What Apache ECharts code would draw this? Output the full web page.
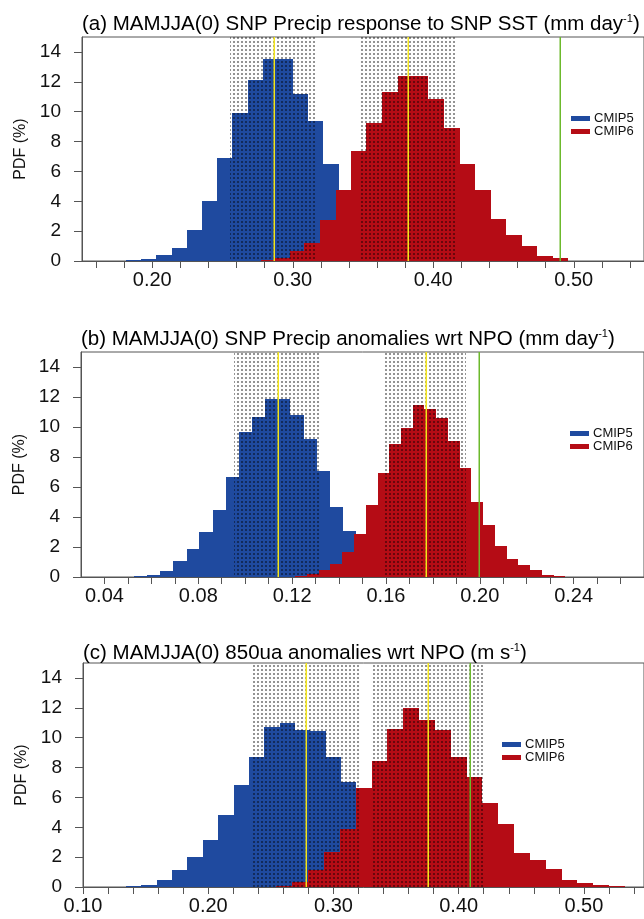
<!DOCTYPE html>
<html><head><meta charset="utf-8">
<script src="https://cdn.jsdelivr.net/npm/echarts@6/dist/echarts.min.js"></script>
<style>html,body{margin:0;padding:0;background:#fff}#c{width:644px;height:919px}</style>
</head><body><div id="c"></div>
<script>
// ---------- Panel (a) ----------
const aTitle = '(a) MAMJJA(0) SNP Precip response to SNP SST (mm day';
const aUnitSup = '-1';
const aBlueEdges = [0.1815,0.1922,0.2028,0.2140,0.2249,0.2356,0.2463,0.2570,0.2681,0.2788,0.2895,0.3001,0.3111,0.3218,0.3327,0.3435,0.3543,0.3651,0.3759,0.3867];
const aBlueValues = [0.05,0.12,0.38,0.9,2.1,4.05,6.9,9.9,12.1,13.5,13.5,11.2,9.4,6.5,4.2,2.9,1.5,0.6,0.2];
const aRedEdges = [0.2773,0.2872,0.2978,0.3083,0.3197,0.3306,0.3417,0.3524,0.3635,0.3747,0.3856,0.3966,0.4076,0.4188,0.4297,0.4409,0.4521,0.4630,0.4739,0.4849,0.4960,0.5068];
const aRedValues = [0.07,0.22,0.67,1.2,2.72,4.78,7.37,9.26,11.3,12.37,12.37,10.85,8.93,6.52,4.73,2.79,1.72,0.98,0.36,0.2,0.03];
const aBands = [[0.2551,0.3172],[0.3472,0.4165]];
const aMedians = [0.2866,0.3821];
const aObserved = 0.4903;
const aXTicks = [0.16,0.18,0.20,0.22,0.24,0.26,0.28,0.30,0.32,0.34,0.36,0.38,0.40,0.42,0.44,0.46,0.48,0.50,0.52,0.54];
const aXLabels = [0.20,0.30,0.40,0.50];

// ---------- Panel (b) ----------
const bTitle = '(b) MAMJJA(0) SNP Precip anomalies wrt NPO (mm day';
const bUnitSup = '-1';
const bBlueEdges = [0.0475,0.0528,0.0583,0.0638,0.0694,0.0750,0.0805,0.0861,0.0916,0.0972,0.1027,0.1083,0.1138,0.1193,0.1249,0.1304,0.1360,0.1415,0.1471,0.1526,0.1582,0.1637,0.1693];
const bBlueValues = [0.03,0.06,0.15,0.4,1.05,1.85,3.0,4.5,6.65,9.7,10.7,11.85,11.9,10.8,9.2,7.1,4.7,3.1,1.9,0.9,0.4,0.1];
const bRedEdges = [0.1213,0.1263,0.1313,0.1363,0.1413,0.1463,0.1514,0.1564,0.1614,0.1664,0.1714,0.1764,0.1814,0.1864,0.1914,0.1964,0.2015,0.2065,0.2115,0.2165,0.2215,0.2265,0.2315,0.2365,0.2415];
const bRedValues = [0.05,0.18,0.5,0.9,1.7,2.9,4.8,6.96,8.9,9.96,11.5,11.2,10.6,9.07,7.3,5.0,3.5,2.1,1.2,0.78,0.44,0.11,0.07,0.03];
const bBands = [[0.0954,0.1320],[0.1594,0.1942]];
const bMedians = [0.1138,0.1771];
const bObserved = 0.1997;
const bXTicks = [0.04,0.05,0.06,0.07,0.08,0.09,0.10,0.11,0.12,0.13,0.14,0.15,0.16,0.17,0.18,0.19,0.20,0.21,0.22,0.23,0.24,0.25,0.26];
const bXLabels = [0.04,0.08,0.12,0.16,0.20,0.24];

// ---------- Panel (c) ----------
const cTitle = '(c) MAMJJA(0) 850ua anomalies wrt NPO (m s';
const cUnitSup = '-1';
const cBlueEdges = [0.1220,0.1343,0.1465,0.1588,0.1711,0.1834,0.1956,0.2079,0.2202,0.2324,0.2447,0.2570,0.2692,0.2815,0.2938,0.3061,0.3183,0.3306,0.3429,0.3551,0.3674,0.3797,0.3920,0.4042];
const cBlueValues = [0.02,0.07,0.15,0.5,1.16,2.0,3.17,4.8,6.8,8.7,10.7,10.98,10.5,10.45,8.7,7.0,5.0,3.8,2.5,1.6,0.9,0.4,0.1];
const cRedEdges = [0.2418,0.2545,0.2671,0.2798,0.2924,0.3051,0.3177,0.3304,0.3430,0.3557,0.3683,0.3810,0.3936,0.4063,0.4189,0.4316,0.4442,0.4569,0.4695,0.4822,0.4948,0.5075,0.5201,0.5328,0.5454];
const cRedValues = [0.02,0.07,0.33,1.16,2.34,3.9,6.63,8.45,10.55,12.0,11.15,10.5,8.72,7.35,5.65,4.22,2.25,1.82,1.22,0.45,0.25,0.13,0.06,0.03];
const cBands = [[0.2355,0.3216],[0.3308,0.4191]];
const cMedians = [0.2780,0.3755];
const cObserved = 0.4087;
const cXTicks = [0.10,0.12,0.14,0.16,0.18,0.20,0.22,0.24,0.26,0.28,0.30,0.32,0.34,0.36,0.38,0.40,0.42,0.44,0.46,0.48,0.50,0.52,0.54];
const cXLabels = [0.10,0.20,0.30,0.40,0.50];

// ---------- Shared ----------
const yTicks = [0,2,4,6,8,10,12,14];
const yLabels = [0,2,4,6,8,10,12,14];
const seriesNames = ['CMIP5','CMIP6'];

const BLUE = '#1f4a9f', RED = '#b50c15', YELLOW = '#f3e51c', GREEN = '#6cb92c', AXIS = '#555';
const FONT = "'Liberation Sans', Arial, Helvetica, sans-serif";

function dotPattern(){
  const c = document.createElement('canvas');
  c.width = 4; c.height = 4;
  const g = c.getContext('2d');
  g.fillStyle = 'rgba(0,0,0,0.42)';
  g.fillRect(1,1,2,2);
  return c;
}
const PATTERN = {type:'pattern', image: dotPattern(), repeat:'repeat'};

function toBins(edges, vals){ return vals.map((v,i)=>[edges[i], edges[i+1], v]); }

function histItem(params, api){
  const p = api.coord([api.value(0), api.value(2)]);
  const q = api.coord([api.value(1), 0]);
  const x0 = Math.round(p[0]), x1 = Math.round(q[0]);
  const y0 = Math.round(p[1]), y1 = Math.round(q[1]);
  return {type:'rect', shape:{x:x0, y:y0, width:x1-x0, height:y1-y0}, style:{fill: api.visual('color')}};
}
function bandItem(params, api){
  const p = api.coord([api.value(0), 15]);
  const q = api.coord([api.value(1), 0]);
  const x0 = Math.round(p[0]), x1 = Math.round(q[0]);
  return {type:'rect', shape:{x:x0, y:p[1], width:x1-x0, height:q[1]-p[1]}, style:{fill: PATTERN}};
}
function lineItem(params, api){
  const p = api.coord([api.value(0), 15]);
  const q = api.coord([api.value(0), 0]);
  const x = Math.round(p[0]) + 0.25;
  return {type:'line', shape:{x1:x, y1:p[1], x2:x, y2:q[1]}, style:{stroke: api.value(1) === 1 ? GREEN : YELLOW, lineWidth:1.5}};
}

const panels = [
  {title:aTitle, sup:aUnitSup, be:aBlueEdges, bv:aBlueValues, re:aRedEdges, rv:aRedValues, bands:aBands, med:aMedians, obs:aObserved, ticks:aXTicks, labels:aXLabels,
   min:0.15, max:0.55, grid:{left:82, top:37, height:224}, titleTop:12, legend:{left:571, top:112}},
  {title:bTitle, sup:bUnitSup, be:bBlueEdges, bv:bBlueValues, re:bRedEdges, rv:bRedValues, bands:bBands, med:bMedians, obs:bObserved, ticks:bXTicks, labels:bXLabels,
   min:0.03, max:0.27, grid:{left:81, top:352, height:225}, titleTop:327, legend:{left:570, top:427}},
  {title:cTitle, sup:cUnitSup, be:cBlueEdges, bv:cBlueValues, re:cRedEdges, rv:cRedValues, bands:cBands, med:cMedians, obs:cObserved, ticks:cXTicks, labels:cXLabels,
   min:0.10, max:0.548, grid:{left:83, top:663, height:224}, titleTop:641, legend:{left:502, top:738}}
];

const option = {
  backgroundColor:'#fff', animation:false,
  textStyle:{fontFamily:FONT},
  title:[], grid:[], xAxis:[], yAxis:[], legend:[], series:[]
};

panels.forEach((P, i)=>{
  option.title.push({
    text:'{t|' + P.title + '}{s|' + P.sup + '}{t|)}',
    left:P.grid.left, top:P.titleTop, padding:0,
    textStyle:{fontWeight:'normal', rich:{
      t:{fontFamily:FONT, fontSize:20.5, fontWeight:'normal', color:'#000', lineHeight:24},
      s:{fontFamily:FONT, fontSize:11, fontWeight:'normal', color:'#000', lineHeight:11, verticalAlign:'top', padding:[1,0,0,0]}
    }}
  });
  option.grid.push({left:P.grid.left, top:P.grid.top, height:P.grid.height, right:-1, show:true, borderColor:AXIS, borderWidth:1, containLabel:false});
  option.xAxis.push({
    gridIndex:i, type:'value', min:P.min, max:P.max,
    axisLine:{show:true, onZero:false, lineStyle:{color:AXIS, width:1}},
    axisTick:{show:true, inside:false, length:7, customValues:P.ticks, lineStyle:{color:AXIS}},
    axisLabel:{show:true, customValues:P.labels, formatter:v=>Number(v).toFixed(2), fontSize:20, color:'#111', margin:9, fontFamily:FONT},
    splitLine:{show:false}
  });
  option.yAxis.push({
    gridIndex:i, type:'value', min:0, max:15,
    name:'PDF (%)', nameLocation:'middle', nameGap:51, nameTextStyle:{fontSize:16, color:'#111', fontFamily:FONT},
    axisLine:{show:true, onZero:false, lineStyle:{color:AXIS, width:1}},
    axisTick:{show:true, inside:false, length:8, customValues:yTicks, lineStyle:{color:AXIS}},
    axisLabel:{show:true, customValues:yLabels, fontSize:19, color:'#111', margin:21, fontFamily:FONT},
    splitLine:{show:false}
  });
  option.legend.push({
    left:P.legend.left, top:P.legend.top, orient:'vertical', padding:0, itemGap:0,
    itemWidth:19, itemHeight:5, icon:'rect', selectedMode:false,
    textStyle:{fontSize:13, color:'#111', fontFamily:FONT, padding:[0,0,0,-1]},
    data:seriesNames
  });
  option.series.push({
    name:seriesNames[0], type:'custom', xAxisIndex:i, yAxisIndex:i, z:2, clip:true,
    itemStyle:{color:BLUE}, renderItem:histItem, encode:{x:[0,1], y:2},
    data:toBins(P.be, P.bv)
  });
  option.series.push({
    name:seriesNames[1], type:'custom', xAxisIndex:i, yAxisIndex:i, z:3, clip:true,
    itemStyle:{color:RED}, renderItem:histItem, encode:{x:[0,1], y:2},
    data:toBins(P.re, P.rv)
  });
  option.series.push({
    name:'range'+i, type:'custom', xAxisIndex:i, yAxisIndex:i, z:4, clip:true, silent:true,
    renderItem:bandItem, encode:{x:[0,1]},
    data:P.bands
  });
  option.series.push({
    name:'lines'+i, type:'custom', xAxisIndex:i, yAxisIndex:i, z:5, clip:true, silent:true,
    renderItem:lineItem, encode:{x:0},
    data:[[P.med[0],0],[P.med[1],0],[P.obs,1]]
  });
});

const chart = echarts.init(document.getElementById('c'), null, {renderer:'canvas'});
chart.setOption(option);
</script>
</body></html>
